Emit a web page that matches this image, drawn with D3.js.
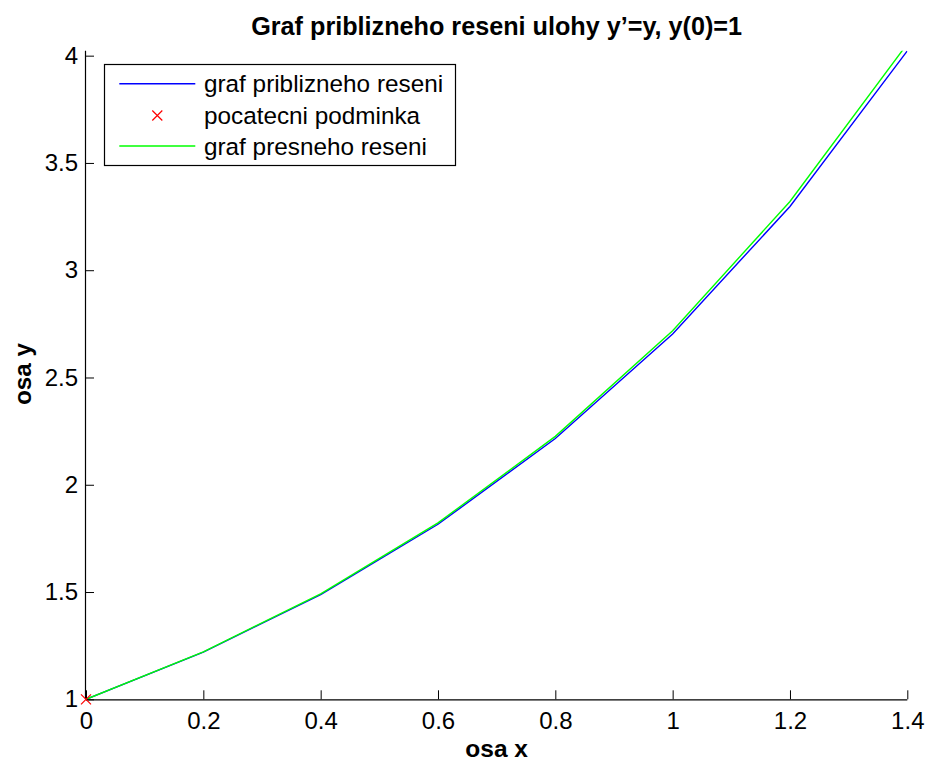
<!DOCTYPE html>
<html><head><meta charset="utf-8">
<script src="https://cdn.jsdelivr.net/npm/d3@7"></script>
<style>body{margin:0;background:#fff;} svg{display:block;font-family:"Liberation Sans",Arial,Helvetica,sans-serif;}</style>
</head><body>
<svg id="c" width="928" height="762"></svg>
<script>
const xValues = [0, 0.2, 0.4, 0.6, 0.8, 1.0, 1.2, 1.4];
const approxValues = [1.0, 1.22, 1.4884, 1.8158, 2.2153, 2.7027, 3.2973, 4.0227];
const exactValues = [1.0, 1.2214, 1.4918, 1.8221, 2.2255, 2.7183, 3.3201, 4.0552];
const initialPoint = [{x: 0, y: 1}];
const xTicks = [0, 0.2, 0.4, 0.6, 0.8, 1, 1.2, 1.4];
const yTicks = [1, 1.5, 2, 2.5, 3, 3.5, 4];
const legendLabels = ["graf priblizneho reseni", "pocatecni podminka", "graf presneho reseni"];
const titleText = "Graf priblizneho reseni ulohy y\u2019=y, y(0)=1";

const svg = d3.select("#c");
const L = 86, R = 907.3, T = 50.8, B = 699.3;
const x = d3.scaleLinear().domain([0, 1.4]).range([L, R]);
const y = d3.scaleLinear().domain([1, 4.0227]).range([B, T]);
const FONT = "Liberation Sans, Arial, sans-serif";

svg.append("defs").append("clipPath").attr("id", "clip")
  .append("rect").attr("x", L).attr("y", T).attr("width", R - L).attr("height", B - T);

const line = d3.line().x(d => x(d[0])).y(d => y(d[1]));
const plot = svg.append("g").attr("clip-path", "url(#clip)");
plot.append("path").datum(xValues.map((v, i) => [v, approxValues[i]]))
  .attr("d", line).attr("fill", "none").attr("stroke", "#0000ff").attr("stroke-width", 1.4);
plot.append("path").datum(xValues.map((v, i) => [v, exactValues[i]]))
  .attr("d", line).attr("fill", "none").attr("stroke", "#00ff00").attr("stroke-width", 1.4);

const cross = (g, cx, cy, s) => {
  g.append("path").attr("d", `M${cx - s},${cy - s}L${cx + s},${cy + s}M${cx - s},${cy + s}L${cx + s},${cy - s}`)
    .attr("stroke", "#ff0000").attr("stroke-width", 1.2).attr("fill", "none");
};

// axes
const xAxis = d3.axisBottom(x).tickValues(xTicks).tickSizeInner(-9).tickSizeOuter(0).tickPadding(13)
  .tickFormat(d => String(d));
const gx = svg.append("g").attr("transform", `translate(0,${B})`).call(xAxis);
gx.select(".domain").attr("d", `M${L},0.5H${R}`).attr("stroke", "#000").attr("stroke-width", 1.2);
gx.selectAll(".tick line").attr("stroke", "#000");
gx.selectAll("text").attr("font-size", 24).attr("fill", "#000").attr("font-family", FONT);

const yAxis = d3.axisLeft(y).tickValues(yTicks).tickSizeInner(-8).tickSizeOuter(0).tickPadding(8)
  .tickFormat(d => String(d));
const gy = svg.append("g").attr("transform", `translate(${L},0)`).call(yAxis);
gy.select(".domain").attr("d", `M-0.5,${T}V${B}`).attr("stroke", "#000").attr("stroke-width", 1.2);
gy.selectAll(".tick line").attr("stroke", "#000");
gy.selectAll("text").attr("font-size", 24).attr("fill", "#000").attr("font-family", FONT);

initialPoint.forEach(p => cross(svg, x(p.x), y(p.y), 5));

// title & labels
svg.append("text").attr("x", (L + R) / 2).attr("y", 35).attr("text-anchor", "middle")
  .attr("font-size", 25.2).attr("font-weight", "bold").text(titleText);
svg.append("text").attr("x", (L + R) / 2).attr("y", 757).attr("text-anchor", "middle")
  .attr("font-size", 24.5).attr("font-weight", "bold").text("osa x");
svg.append("text").attr("transform", `translate(31,374) rotate(-90)`).attr("text-anchor", "middle")
  .attr("font-size", 24.3).attr("font-weight", "bold").text("osa y");

// legend
const lg = svg.append("g");
lg.append("rect").attr("x", 104.5).attr("y", 64.5).attr("width", 351).attr("height", 101)
  .attr("fill", "#fff").attr("stroke", "#000").attr("stroke-width", 1.2);
const rows = [83.7, 115.5, 146];
const colors = ["#0000ff", "#ff0000", "#00ff00"];
legendLabels.forEach((lab, i) => {
  const yy = rows[i];
  if (i === 1) cross(lg, 157.3, yy, 5);
  else lg.append("line").attr("x1", 119.3).attr("x2", 195.3).attr("y1", yy).attr("y2", yy)
    .attr("stroke", colors[i]).attr("stroke-width", 1.4);
  lg.append("text").attr("x", 204).attr("y", yy).attr("dy", "0.35em").attr("font-size", 24.3).text(lab);
});
</script>
</body></html>
